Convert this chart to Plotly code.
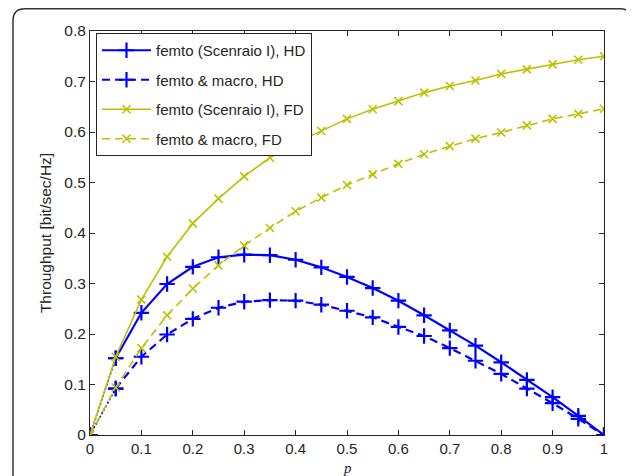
import plotly.graph_objects as go

p = [0, 0.05, 0.1, 0.15, 0.2, 0.25, 0.3, 0.35, 0.4, 0.45, 0.5,
     0.55, 0.6, 0.65, 0.7, 0.75, 0.8, 0.85, 0.9, 0.95, 1.0]

femto_hd = [0, 0.152, 0.242, 0.299, 0.333, 0.352, 0.357, 0.356, 0.347, 0.332, 0.313,
            0.291, 0.266, 0.237, 0.207, 0.177, 0.144, 0.109, 0.075, 0.038, 0]
macro_hd = [0, 0.092, 0.155, 0.199, 0.230, 0.252, 0.264, 0.267, 0.266, 0.258, 0.246,
            0.233, 0.214, 0.196, 0.172, 0.147, 0.121, 0.092, 0.063, 0.032, 0]
femto_fd = [0, 0.155, 0.268, 0.353, 0.419, 0.468, 0.512, 0.549, 0.578, 0.602, 0.626,
            0.645, 0.661, 0.678, 0.691, 0.702, 0.715, 0.724, 0.734, 0.743, 0.750]
macro_fd = [0, 0.094, 0.172, 0.237, 0.290, 0.336, 0.375, 0.410, 0.443, 0.470, 0.495,
            0.516, 0.537, 0.556, 0.572, 0.587, 0.599, 0.613, 0.626, 0.636, 0.646]

names = ["femto (Scenraio I), HD", "femto &amp; macro, HD",
         "femto (Scenraio I), FD", "femto &amp; macro, FD"]

xticks = [0, 0.1, 0.2, 0.3, 0.4, 0.5, 0.6, 0.7, 0.8, 0.9, 1]
xticklabels = ["0", "0.1", "0.2", "0.3", "0.4", "0.5", "0.6", "0.7", "0.8", "0.9", "1"]
yticks = [0, 0.1, 0.2, 0.3, 0.4, 0.5, 0.6, 0.7, 0.8]
yticklabels = ["0", "0.1", "0.2", "0.3", "0.4", "0.5", "0.6", "0.7", "0.8"]

BLUE = "#0000FF"
YEL = "#BFBF00"

fig = go.Figure()
styles = [
    (femto_hd, BLUE, "solid", "cross-thin", 11, 2.2),
    (macro_hd, BLUE, "8px,5px", "cross-thin", 11, 2.2),
    (femto_fd, YEL, "solid", "x-thin", 8, 1.6),
    (macro_fd, YEL, "8px,5px", "x-thin", 8, 1.6),
]
for i, (vals, col, dash, sym, msz, lw) in enumerate(styles):
    mk = dict(symbol=sym, size=msz, color=col,
              line=dict(color=col, width=2.2 if col == BLUE else 1.6))
    start = 1 if col == BLUE else 0
    if col == BLUE:
        # first segment of the HD curves is drawn dotted in the original
        fig.add_trace(go.Scatter(
            x=p[:2], y=vals[:2], mode="lines+markers", showlegend=False,
            legendgroup=str(i), line=dict(color=col, width=1.6, dash="2px,2px"),
            marker=mk, hoverinfo="skip"))
    fig.add_trace(go.Scatter(
        x=p[start:], y=vals[start:], mode="lines+markers", name=names[i],
        legendgroup=str(i),
        line=dict(color=col, width=lw, dash=dash),
        marker=mk,
    ))

# page body has an 8px offset in the photographed window
OFF = 8
W, H = 634, 476
L, T = 90 - OFF, 31 - OFF
R = W - (604 - OFF)
B = H - (435 - OFF)
pw, ph = W - L - R, H - T - B


def px(x):
    return (x - OFF - L) / pw


def py(y):
    return (H - B - (y - OFF)) / ph


fl, fr, ft, fb = px(13), px(632), py(8.8), py(495)
rx, ry = 12 / pw, 12 / ph
path = (f"M {fl},{fb} L {fl},{ft - ry} Q {fl},{ft} {fl + rx},{ft} "
        f"L {fr - rx},{ft} Q {fr},{ft} {fr},{ft - ry} L {fr},{fb}")

fig.update_layout(
    width=W, height=H,
    margin=dict(l=L, r=R, t=T, b=B),
    paper_bgcolor="white", plot_bgcolor="white",
    font=dict(family="Liberation Sans, Arial, sans-serif", size=15, color="#262626"),
    showlegend=True,
    legend=dict(
        x=px(96), y=py(33), xanchor="left", yanchor="top",
        bgcolor="white", bordercolor="#262626", borderwidth=1,
        font=dict(size=15, color="#262626"),
        itemwidth=49, tracegroupgap=7,
    ),
    shapes=[dict(type="path", xref="paper", yref="paper", path=path,
                 line=dict(color="#333333", width=1.5), layer="above")],
    annotations=[dict(text="<i>p</i>", xref="paper", yref="paper",
                      x=0.5, y=py(458), xanchor="center", yanchor="top",
                      showarrow=False,
                      font=dict(family="Liberation Serif, serif", size=15, color="#262626"))],
    xaxis=dict(
        range=[0, 1], tickmode="array", tickvals=xticks, ticktext=xticklabels,
        ticks="inside", ticklen=5, tickcolor="#262626", mirror="ticks",
        showline=True, linecolor="#262626", linewidth=1, showgrid=False,
        zeroline=False, tickfont=dict(size=15), automargin=False,
    ),
    yaxis=dict(
        range=[0, 0.8], tickmode="array", tickvals=yticks, ticktext=yticklabels,
        ticks="inside", ticklen=5, tickcolor="#262626", mirror="ticks",
        showline=True, linecolor="#262626", linewidth=1, showgrid=False,
        zeroline=False, tickfont=dict(size=15.5), automargin=False,
        title=dict(text="Throughput [bit/sec/Hz]", font=dict(size=15.5), standoff=8),
    ),
)

fig.write_html("out.html")
